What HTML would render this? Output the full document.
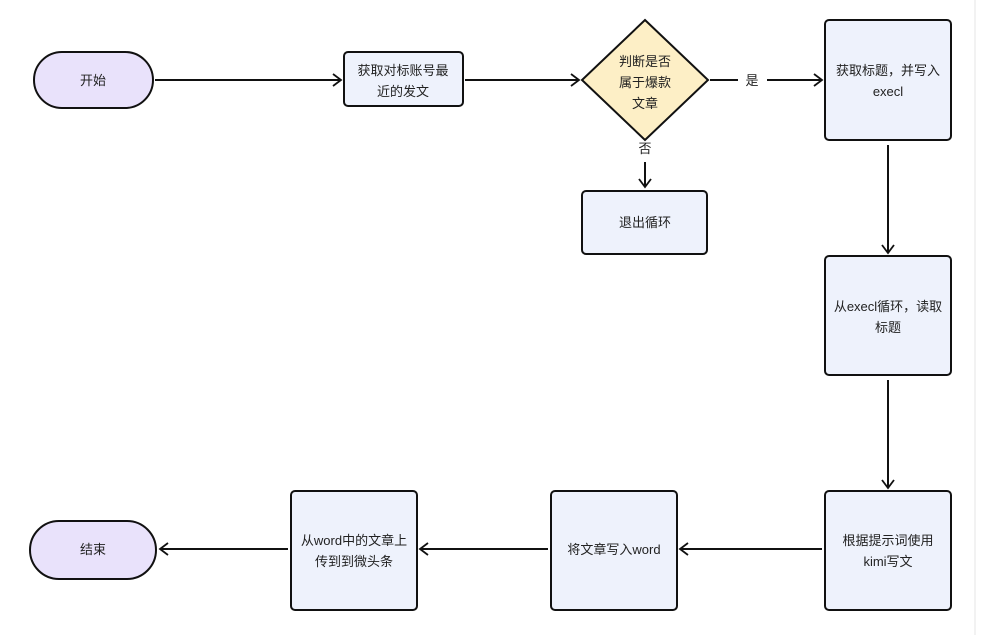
<!DOCTYPE html>
<html><head><meta charset="utf-8"><style>
body{margin:0;background:#fff;}
svg text{font-family:"Liberation Sans","Noto Sans CJK SC",sans-serif;font-size:13px;fill:#222;text-anchor:middle;}
</style></head><body>
<svg width="984" height="635" viewBox="0 0 984 635" xmlns="http://www.w3.org/2000/svg">
<defs><marker id="a" markerWidth="12" markerHeight="14" refX="10" refY="7" orient="auto" markerUnits="userSpaceOnUse"><path d="M2,1 L10,7 L2,13" fill="none" stroke="#111" stroke-width="1.8"/></marker></defs>
<line x1="975" y1="0" x2="975" y2="635" stroke="#e4e4e4" stroke-width="1"/>
<g stroke="#111" stroke-width="2" fill="none" marker-end="url(#a)">
<line x1="155" y1="80" x2="341" y2="80"/>
<line x1="465" y1="80" x2="579" y2="80"/>
<line x1="767" y1="80" x2="822" y2="80"/>
<line x1="645" y1="162" x2="645" y2="187"/>
<line x1="888" y1="145" x2="888" y2="253"/>
<line x1="888" y1="380" x2="888" y2="488"/>
<line x1="822" y1="549" x2="680" y2="549"/>
<line x1="548" y1="549" x2="420" y2="549"/>
<line x1="288" y1="549" x2="160" y2="549"/>
</g>
<line x1="710" y1="80" x2="738" y2="80" stroke="#111" stroke-width="2"/>
<g stroke="#111" stroke-width="2">
<rect x="34" y="52" width="119" height="56" rx="28" fill="#e9e2fb"/>
<rect x="344" y="52" width="119" height="54" rx="4" fill="#eef2fc"/>
<polygon points="645,20 708,80 645,140 582,80" fill="#fdefc6"/>
<rect x="825" y="20" width="126" height="120" rx="4" fill="#eef2fc"/>
<rect x="582" y="191" width="125" height="63" rx="4" fill="#eef2fc"/>
<rect x="825" y="256" width="126" height="119" rx="4" fill="#eef2fc"/>
<rect x="825" y="491" width="126" height="119" rx="4" fill="#eef2fc"/>
<rect x="551" y="491" width="126" height="119" rx="4" fill="#eef2fc"/>
<rect x="291" y="491" width="126" height="119" rx="4" fill="#eef2fc"/>
<rect x="30" y="521" width="126" height="58" rx="29" fill="#e9e2fb"/>
</g>
<text x="93" y="85">开始</text>
<text x="403" y="75">获取对标账号最</text><text x="403" y="96">近的发文</text>
<text x="645" y="66">判断是否</text><text x="645" y="87">属于爆款</text><text x="645" y="108">文章</text>
<text x="752" y="85">是</text>
<text x="645" y="153">否</text>
<text x="888" y="75">获取标题，并写入</text><text x="888" y="96">execl</text>
<text x="645" y="227">退出循环</text>
<text x="888" y="311">从execl循环，读取</text><text x="888" y="332">标题</text>
<text x="888" y="545">根据提示词使用</text><text x="888" y="566">kimi写文</text>
<text x="614" y="554">将文章写入word</text>
<text x="354" y="545">从word中的文章上</text><text x="354" y="566">传到到微头条</text>
<text x="93" y="554">结束</text>
</svg>
</body></html>
